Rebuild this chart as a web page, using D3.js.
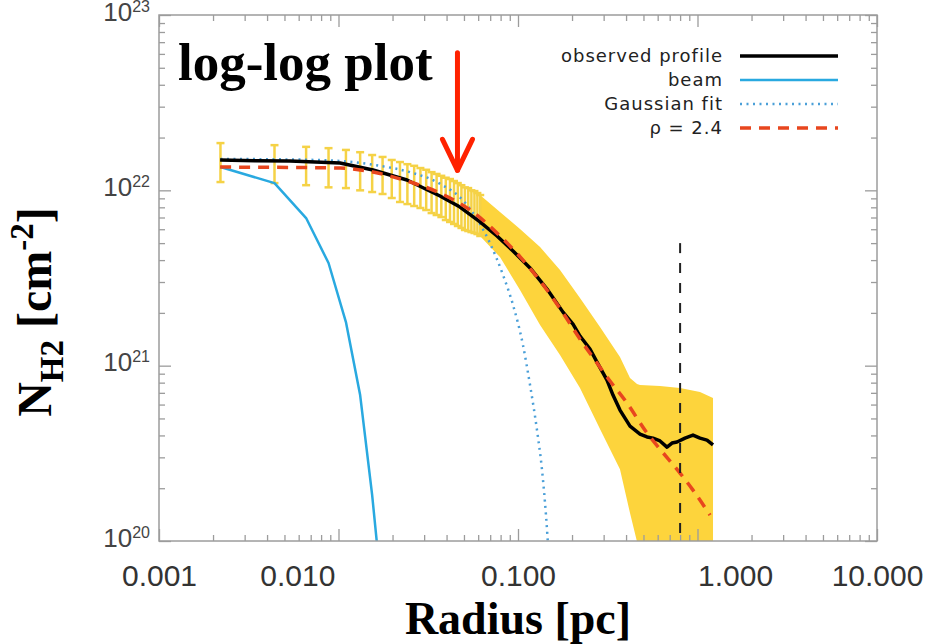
<!DOCTYPE html>
<html><head><meta charset="utf-8">
<script src="https://cdn.jsdelivr.net/npm/d3@7"></script>
<style>body{margin:0;background:#fff}svg{display:block}</style>
</head><body>
<svg id="c" width="941" height="644"></svg>
<script>
// ---------- data ----------
const xDomain = [0.001, 10];
const yDomain = [1e20, 1e23];
const xTickLabels = ["0.001", "0.010", "0.100", "1.000", "10.000"];
const xTickLabelAt = [0.001, 0.0059, 0.1, 1.62, 10];
const yTickValues = [1e20, 1e21, 1e22, 1e23];
const yTickExp = ["20", "21", "22", "23"];

const profR = [0.00219,0.00343,0.00537,0.0102,0.01557,0.02408,0.03677,0.04753,0.06142,0.07638,0.0938,0.1167,0.1451,0.1781,0.2025,0.2215,0.2518,0.2755,0.3132,0.3382,0.3699,0.4207,0.4783,0.5232,0.565,0.6182,0.6761,0.7211,0.7689,0.8518,0.9438,1.0325,1.1294,1.2201];
const profN = [1.489e22,1.475e22,1.469e22,1.431e22,1.306e22,1.145e22,9.28e21,8.03e21,6.60e21,5.49e21,4.51e21,3.61e21,2.735e21,2.02e21,1.727e21,1.476e21,1.244e21,1.048e21,8.28e20,6.80e20,5.58e20,4.52e20,4.07e20,3.92e20,3.86e20,3.72e20,3.43e20,3.62e20,3.67e20,3.86e20,4.02e20,3.86e20,3.76e20,3.53e20];

const rhoR = [0.00219,0.00537,0.0102,0.01557,0.02408,0.03677,0.05614,0.07935,0.1066,0.1451,0.1781,0.2215,0.2755,0.3132,0.4048,0.5232,0.6182,0.799,0.9438,1.1738];
const rhoN = [1.358e22,1.35e22,1.34e22,1.272e22,1.13e22,9.65e21,7.52e21,5.49e21,4.0e21,2.70e21,2.0e21,1.418e21,1.035e21,8.61e20,6.12e20,4.13e20,3.34e20,2.44e20,1.95e20,1.405e20];

const gaussR = [0.0022,0.0054,0.0102,0.017,0.025,0.0368,0.0507,0.0698,0.0825,0.0938,0.1066,0.1167,0.1276,0.1361,0.1432,0.1488];
const gaussN = [1.51e22,1.50e22,1.47e22,1.38e22,1.27e22,1.09e22,8.5e21,5.0e21,3.29e21,2.22e21,1.31e21,7.75e20,4.29e20,2.54e20,1.4e20,7.8e19];

const beamR = [0.0022,0.0044,0.0066,0.0088,0.011,0.0132,0.0154,0.0176];
const beamN = [1.358e22,1.10e22,6.95e21,3.85e21,1.773e21,6.80e20,1.827e20,4.6e19];

const errR  = [0.0022,0.0044,0.0066,0.0088,0.011,0.0132,0.0154,0.0176,0.0198,0.022,0.0242,0.0264,0.0286,0.0308,0.033,0.0352,0.0374,0.0396,0.0418,0.044,0.0462,0.0484,0.0506,0.0528,0.055,0.0572,0.0594,0.0616];
const errHi = [1.86e22,1.81e22,1.77e22,1.74e22,1.70e22,1.65e22,1.59e22,1.55e22,1.49e22,1.45e22,1.41e22,1.38e22,1.34e22,1.31e22,1.27e22,1.24e22,1.21e22,1.18e22,1.16e22,1.13e22,1.10e22,1.07e22,1.04e22,1.03e22,1.00e22,9.9e21,9.65e21,9.4e21];
const errLo = [1.115e22,1.10e22,1.07e22,1.04e22,1.03e22,1.00e22,9.78e21,9.53e21,9.04e21,8.58e21,8.35e21,8.14e21,7.93e21,7.72e21,7.42e21,7.23e21,7.04e21,6.77e21,6.60e21,6.43e21,6.26e21,6.10e21,5.94e21,5.86e21,5.78e21,5.71e21,5.63e21,5.49e21];

const bandR  = [0.06142,0.07935,0.1026,0.1327,0.1714,0.2215,0.2863,0.3699,0.4207,0.4603,0.4783,0.6182,0.799,1.0325,1.2201];
const bandHi = [9.40e21,7.52e21,6.02e21,4.75e21,3.51e21,2.43e21,1.661e21,1.12e21,8.50e20,7.85e20,7.75e20,7.65e20,7.45e20,7.07e20,6.54e20];
const bandLo = [5.49e21,4.16e21,2.70e21,1.705e21,1.15e21,7.45e20,4.35e20,2.57e20,1.443e20,9.9e19,5e19,5e19,5e19,5e19,5e19];

const vLineR = 0.80, vLineTop = 5.0e21;
const arrowR = 0.046, arrowFrom = 6.1e22, arrowTo = 1.3e22;

const legendNames = ["observed profile", "beam", "Gaussian fit", "\u03c1 = 2.4"];

// ---------- layout ----------
const M = {l: 159, r: 877, t: 15, b: 541};
const x = d3.scaleLog().domain(xDomain).range([M.l, M.r]);
const y = d3.scaleLog().domain(yDomain).range([M.b, M.t]);
const svg = d3.select("#c");
const sans = "'Liberation Sans', Arial, sans-serif";
const serif = "'Liberation Serif', 'Times New Roman', serif";
const frameCol = "#9c9c9c";

svg.append("defs").append("clipPath").attr("id", "clip")
  .append("rect").attr("x", M.l).attr("y", M.t).attr("width", M.r - M.l).attr("height", M.b - M.t);
const plot = svg.append("g").attr("clip-path", "url(#clip)");

const styles = [
  {stroke: "#000", width: 3.5, dash: null},
  {stroke: "#29a9e0", width: 2.5, dash: null},
  {stroke: "#4a9fd8", width: 2.5, dash: "2,4.5"},
  {stroke: "#e8461e", width: 3.5, dash: "11,8"}
];

// yellow band
plot.append("path")
  .datum(bandR.map((r, i) => ({r, hi: bandHi[i], lo: bandLo[i]})))
  .attr("d", d3.area().x(d => x(d.r)).y0(d => y(d.lo)).y1(d => y(d.hi)))
  .attr("fill", "#fdd43c");

// discrete error bars
const eb = plot.append("g").attr("stroke", "#f5d246").attr("stroke-width", 2.5).attr("fill", "none");
const errData = errR.map((r, i) => ({r, hi: errHi[i], lo: errLo[i]}));
eb.selectAll(".v").data(errData).join("line")
  .attr("x1", d => x(d.r)).attr("x2", d => x(d.r)).attr("y1", d => y(d.lo)).attr("y2", d => y(d.hi));
eb.selectAll(".ct").data(errData).join("line")
  .attr("x1", d => x(d.r) - 4).attr("x2", d => x(d.r) + 4).attr("y1", d => y(d.hi)).attr("y2", d => y(d.hi));
eb.selectAll(".cb").data(errData).join("line")
  .attr("x1", d => x(d.r) - 4).attr("x2", d => x(d.r) + 4).attr("y1", d => y(d.lo)).attr("y2", d => y(d.lo));

function drawLine(R, N, st, curve) {
  plot.append("path")
    .datum(R.map((r, i) => [r, N[i]]))
    .attr("d", d3.line().x(d => x(d[0])).y(d => y(d[1])).curve(curve || d3.curveLinear))
    .attr("fill", "none").attr("stroke", st.stroke).attr("stroke-width", st.width)
    .attr("stroke-dasharray", st.dash).attr("stroke-linejoin", "round");
}
drawLine(beamR, beamN, styles[1]);
drawLine(gaussR, gaussN, styles[2], d3.curveMonotoneX);
drawLine(profR, profN, styles[0]);
drawLine(rhoR, rhoN, styles[3], d3.curveMonotoneX);

// vertical dashed line
plot.append("line")
  .attr("x1", x(vLineR)).attr("x2", x(vLineR)).attr("y1", y(vLineTop)).attr("y2", y(yDomain[0]))
  .attr("stroke", "#222").attr("stroke-width", 2).attr("stroke-dasharray", "10,10");

// ---------- axes (ticks) ----------
const isMajor = d => Math.abs(Math.log10(d) - Math.round(Math.log10(d))) < 1e-6;
function styleTicks(g, majorLen, sign, horiz) {
  g.select(".domain").remove();
  g.selectAll(".tick text").remove();
  g.selectAll(".tick line").attr("stroke", frameCol).attr("stroke-width", 1.3)
    .each(function(d) {
      const len = isMajor(d) ? majorLen : 6;
      d3.select(this).attr(horiz ? "y2" : "x2", sign * len);
    });
}
const xt = x.ticks(), yt = y.ticks();
svg.append("g").attr("transform", `translate(0,${M.b})`)
  .call(d3.axisBottom(x).tickValues(xt).tickSizeOuter(0)).call(g => styleTicks(g, 12, -1, true));
svg.append("g").attr("transform", `translate(0,${M.t})`)
  .call(d3.axisTop(x).tickValues(xt).tickSizeOuter(0)).call(g => styleTicks(g, 12, 1, true));
svg.append("g").attr("transform", `translate(${M.l},0)`)
  .call(d3.axisLeft(y).tickValues(yt).tickSizeOuter(0)).call(g => styleTicks(g, 12, 1, false));
svg.append("g").attr("transform", `translate(${M.r},0)`)
  .call(d3.axisRight(y).tickValues(yt).tickSizeOuter(0)).call(g => styleTicks(g, 12, -1, false));

svg.append("rect").attr("x", M.l).attr("y", M.t).attr("width", M.r - M.l).attr("height", M.b - M.t)
  .attr("fill", "none").attr("stroke", frameCol).attr("stroke-width", 1.5);

// x tick labels
svg.append("g").attr("transform", `translate(0,${M.b})`)
  .call(d3.axisBottom(x).tickValues(xTickLabelAt).tickSize(0).tickPadding(24)
    .tickFormat((d, i) => xTickLabels[i]))
  .call(g => {
    g.select(".domain").remove();
    g.selectAll("text").attr("font-family", sans).attr("font-size", 30).attr("fill", "#333");
  });

// y tick labels
svg.append("g").attr("transform", `translate(${M.l},0)`)
  .call(d3.axisLeft(y).tickValues(yTickValues).tickSize(0).tickPadding(9).tickFormat(() => ""))
  .call(g => {
    g.select(".domain").remove();
    g.selectAll(".tick text").each(function(d, i) {
      const t = d3.select(this).attr("font-family", sans).attr("fill", "#444").attr("dy", "0.5em");
      t.append("tspan").attr("font-size", 26).text("10");
      t.append("tspan").attr("font-size", 16).attr("dy", -9).text(yTickExp[i]);
    });
  });

// axis titles
svg.append("text").attr("x", (M.l + M.r) / 2).attr("y", 634).attr("text-anchor", "middle")
  .attr("font-family", serif).attr("font-weight", "bold").attr("font-size", 46).attr("fill", "#000")
  .text("Radius [pc]");

const yt2 = svg.append("text").attr("transform", "translate(51,312) rotate(-90)").attr("text-anchor", "middle")
  .attr("font-family", serif).attr("font-weight", "bold").attr("font-size", 48).attr("fill", "#000");
yt2.append("tspan").text("N");
yt2.append("tspan").attr("font-size", 33).attr("dy", 12).text("H2");
yt2.append("tspan").attr("dy", -12).text(" [cm");
yt2.append("tspan").attr("font-size", 33).attr("dy", -18).text("-2");
yt2.append("tspan").attr("dy", 18).text("]");

// annotation
svg.append("text").attr("x", 178).attr("y", 80)
  .attr("font-family", serif).attr("font-weight", "bold").attr("font-size", 53).attr("fill", "#000")
  .text("log-log plot");
const ax = x(arrowR), ay0 = y(arrowFrom), ay1 = y(arrowTo);
const arrow = svg.append("g").attr("stroke", "#ff2200").attr("stroke-width", 5).attr("fill", "none")
  .attr("stroke-linecap", "round").attr("stroke-linejoin", "round");
arrow.append("line").attr("x1", ax).attr("x2", ax).attr("y1", ay0).attr("y2", ay1);
arrow.append("path").attr("d", `M${ax - 15},${ay1 - 31}L${ax},${ay1}L${ax + 15},${ay1 - 31}`);

// legend
const lg = svg.append("g");
legendNames.forEach((name, i) => {
  const ly = 56 + i * 24;
  lg.append("text").attr("x", 723).attr("y", ly + 6).attr("text-anchor", "end")
    .attr("font-family", "'DejaVu Sans', sans-serif").attr("font-size", 18).attr("letter-spacing", 1)
    .attr("fill", "#222").text(name);
  lg.append("line").attr("x1", 740).attr("x2", 838).attr("y1", ly).attr("y2", ly)
    .attr("stroke", styles[i].stroke).attr("stroke-width", styles[i].width)
    .attr("stroke-dasharray", styles[i].dash);
});
</script>
</body></html>
